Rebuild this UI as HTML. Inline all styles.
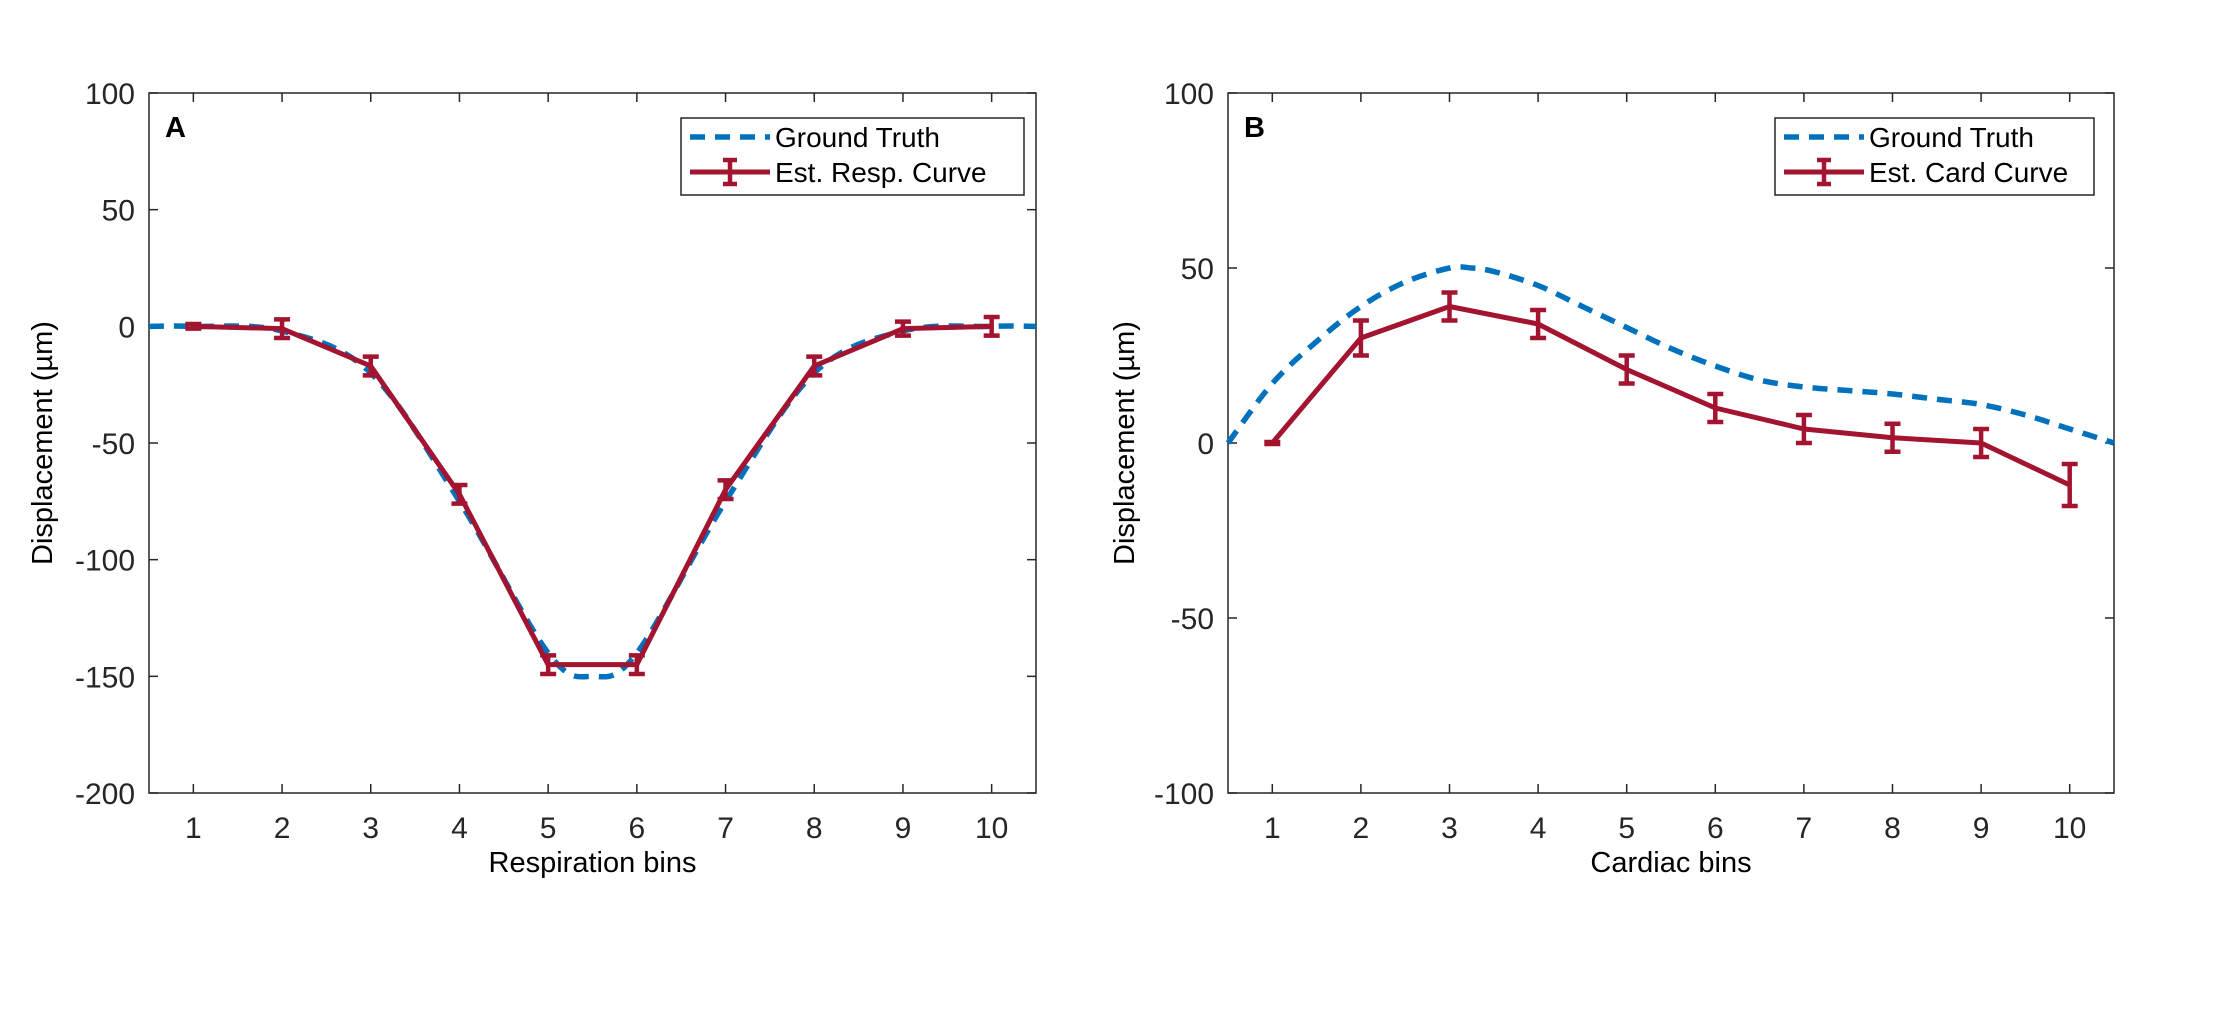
<!DOCTYPE html>
<html><head><meta charset="utf-8"><style>
html,body{margin:0;padding:0;background:#fff;}
svg{display:block;}
.tk{font-family:"Liberation Sans Narrow","Liberation Sans",sans-serif;font-size:30px;fill:#262626;}
.lb{font-family:"Liberation Sans",sans-serif;font-size:29px;fill:#000;}
.lg{font-family:"Liberation Sans Narrow","Liberation Sans",sans-serif;font-size:28px;fill:#000;}
</style></head><body>
<svg id="fig" width="2234" height="1010" viewBox="0 0 2234 1010"></svg>
<script>
const binsA = [1,2,3,4,5,6,7,8,9,10];
const estA = [0,-1,-17,-72,-145,-145,-70,-17,-1,0];
const errA = [1,4,4,4,4,4,4,4,3,4];
const gtAx = [0.5,1,2,3,4,5,5.5,6,7,8,9,10,10.5];
const gtAy = [0,0,-2,-20,-75,-140,-150,-140,-75,-20,-2,0,0];
const yTicksA = [100,50,0,-50,-100,-150,-200];

const binsB = [1,2,3,4,5,6,7,8,9,10];
const estB = [0,30,39,34,21,10,4,1.5,0,-12];
const errB = [0.3,5,4,4,4,4,4,4,4,6];
const gtBx = [0.5,1,1.5,2,2.5,3,3.25,3.5,4,4.5,5,5.5,6,6.5,7,7.5,8,8.5,9,9.5,10,10.5];
const gtBy = [0,17,29,39,46,50,50,49,45,39,33,27,22,18,16,15,14,12.5,11,8,4,0];
const yTicksB = [100,50,0,-50,-100];
const xTicks = [1,2,3,4,5,6,7,8,9,10];

const NS="http://www.w3.org/2000/svg";
const svg=document.getElementById('fig');
function mk(tag,attrs,parent,text){const e=document.createElementNS(NS,tag);for(const k in attrs)e.setAttribute(k,attrs[k]);if(text!==undefined)e.textContent=text;(parent||svg).appendChild(e);return e;}
function smooth(pts){let d='M'+pts[0][0]+','+pts[0][1];for(let i=0;i<pts.length-1;i++){const p0=pts[Math.max(0,i-1)],p1=pts[i],p2=pts[i+1],p3=pts[Math.min(pts.length-1,i+2)];const c1=[p1[0]+(p2[0]-p0[0])/6,p1[1]+(p2[1]-p0[1])/6];const c2=[p2[0]-(p3[0]-p1[0])/6,p2[1]-(p3[1]-p1[1])/6];d+=' C'+c1[0]+','+c1[1]+' '+c2[0]+','+c2[1]+' '+p2[0]+','+p2[1];}return d;}

function panel(o){
  const g=mk('g',{});
  
  
  const X=v=>o.L+(v-0.5)/10*(o.R-o.L);
  const Y=v=>o.T+(o.ymax-v)/(o.ymax-o.ymin)*(o.B-o.T);
  const box=mk('rect',{x:o.L,y:o.T,width:o.R-o.L,height:o.B-o.T,fill:'#fff',stroke:'#262626','stroke-width':1.5},g);
  
  xTicks.forEach(t=>{
    mk('line',{x1:X(t),x2:X(t),y1:o.B,y2:o.B-9,stroke:'#262626','stroke-width':1.5},g);
    mk('line',{x1:X(t),x2:X(t),y1:o.T,y2:o.T+9,stroke:'#262626','stroke-width':1.5},g);
    const tx=mk('text',{x:X(t),y:o.B+45,'text-anchor':'middle',class:'tk'},g,String(t));
    
  });
  o.yt.forEach(t=>{
    mk('line',{x1:o.L,x2:o.L+9,y1:Y(t),y2:Y(t),stroke:'#262626','stroke-width':1.5},g);
    mk('line',{x1:o.R,x2:o.R-9,y1:Y(t),y2:Y(t),stroke:'#262626','stroke-width':1.5},g);
    const tx=mk('text',{x:o.L-14,y:Y(t)+11,'text-anchor':'end',class:'tk'},g,String(t));
    
  });
  const gt=mk('path',{d:smooth(o.gx.map((x,i)=>[X(x),Y(o.gy[i])])),fill:'none',stroke:'#0072BD','stroke-width':5.5,'stroke-dasharray':'15,10'},g);
  
  const est=mk('polyline',{points:o.bx.map((x,i)=>X(x)+','+Y(o.ey[i])).join(' '),fill:'none',stroke:'#A2142F','stroke-width':5,'stroke-linejoin':'round'},g);
  
  o.bx.forEach((x,i)=>{
    const eb=mk('path',{d:'M'+X(x)+','+Y(o.ey[i]+o.er[i])+'V'+Y(o.ey[i]-o.er[i])+'M'+(X(x)-8)+','+Y(o.ey[i]+o.er[i])+'h16M'+(X(x)-8)+','+Y(o.ey[i]-o.er[i])+'h16',stroke:'#A2142F','stroke-width':4.5,fill:'none'},g);
    
  });
  const pl=mk('text',{x:o.L+16,y:o.T+44,class:'lb','font-weight':'bold','font-size':'28'},g,o.letter);
  
  const xl=mk('text',{x:(o.L+o.R)/2,y:o.B+79,'text-anchor':'middle',class:'lb'},g,o.xlabel);
  
  const yl=mk('text',{x:0,y:0,'text-anchor':'middle',class:'lb',transform:'translate('+o.ylx+','+((o.T+o.B)/2)+') rotate(-90)'},g,'Displacement (µm)');
  
  const lg=mk('g',{},g);
  
  mk('rect',{x:o.lgx,y:o.T+25,width:o.lgw,height:77,fill:'#fff',stroke:'#262626','stroke-width':1.5},lg);
  mk('line',{x1:o.lgx+9,x2:o.lgx+89,y1:o.T+44,y2:o.T+44,stroke:'#0072BD','stroke-width':5.5,'stroke-dasharray':'15,10'},lg);
  mk('text',{x:o.lgx+94,y:o.T+54,class:'lg'},lg,'Ground Truth');
  mk('line',{x1:o.lgx+9,x2:o.lgx+89,y1:o.T+79,y2:o.T+79,stroke:'#A2142F','stroke-width':5},lg);
  mk('path',{d:'M'+(o.lgx+49)+','+(o.T+67)+'v24M'+(o.lgx+42)+','+(o.T+67)+'h14M'+(o.lgx+42)+','+(o.T+91)+'h14',stroke:'#A2142F','stroke-width':4.5,fill:'none'},lg);
  mk('text',{x:o.lgx+94,y:o.T+89,class:'lg'},lg,o.lgtext);
}
panel({name:'panel-a-respiration',L:149,R:1036,T:93,B:793,ymax:100,ymin:-200,yt:yTicksA,bx:binsA,ey:estA,er:errA,gx:gtAx,gy:gtAy,letter:'A',xlabel:'Respiration bins',ylx:52,lgx:681,lgw:343,lgtext:'Est. Resp. Curve'});
panel({name:'panel-b-cardiac',L:1228,R:2114,T:93,B:793,ymax:100,ymin:-100,yt:yTicksB,bx:binsB,ey:estB,er:errB,gx:gtBx,gy:gtBy,letter:'B',xlabel:'Cardiac bins',ylx:1134,lgx:1775,lgw:319,lgtext:'Est. Card Curve'});
</script>
</body></html>
